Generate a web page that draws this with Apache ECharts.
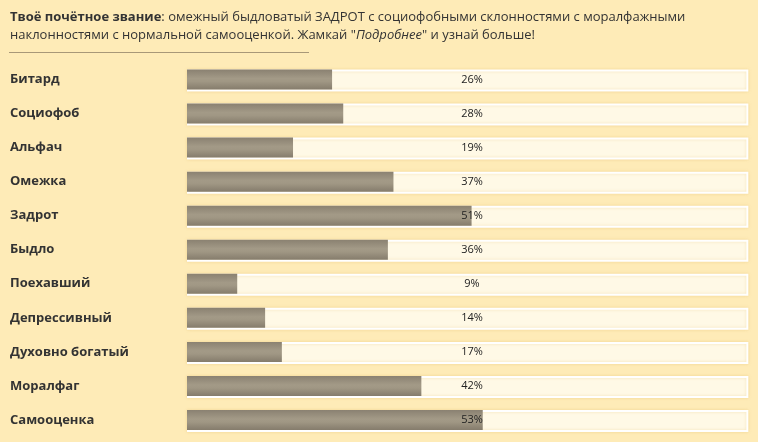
<!DOCTYPE html>
<html><head><meta charset="utf-8">
<script src="https://cdn.jsdelivr.net/npm/echarts@6/dist/echarts.min.js"></script>
<style>html,body{margin:0;padding:0;background:#feebb7;}#c{width:758px;height:442px;}</style>
</head><body><div id="c"></div>
<script>
const categories = ['Битард','Социофоб','Альфач','Омежка','Задрот','Быдло','Поехавший','Депрессивный','Духовно богатый','Моралфаг','Самооценка'];
const values = [26, 28, 19, 37, 51, 36, 9, 14, 17, 42, 53];
const trackValues = categories.map(() => 100.6);
const titleBold = 'Твоё почётное звание';
const titleLine1 = ': омежный быдловатый ЗАДРОТ с социофобными склонностями с моралфажными';
const titleLine2a = 'наклонностями с нормальной самооценкой. Жамкай "';
const titleItalic = 'Подробнее';
const titleLine2b = '" и узнай больше!';

const FONT = '"Open Sans", sans-serif';
const chart = echarts.init(document.getElementById('c'), null, {renderer: 'canvas'});
chart.setOption({
  backgroundColor: '#feebb7',
  animation: false,
  title: {
    left: 10, top: 8, padding: 0,
    text: '{b|' + titleBold + '}{n|' + titleLine1 + '}\n{n|' + titleLine2a + '}{i|' + titleItalic + '}{n|' + titleLine2b + '}',
    textStyle: {
      fontWeight: 'normal', fontFamily: FONT, fontSize: 13, color: '#333',
      rich: {
        b: {fontFamily: FONT, fontSize: 13, fontWeight: 'bold', color: '#333', lineHeight: 18},
        n: {fontFamily: FONT, fontSize: 13, fontWeight: 'normal', color: '#333', lineHeight: 18},
        i: {fontFamily: FONT, fontSize: 13, fontWeight: 'normal', fontStyle: 'italic', color: '#333', lineHeight: 18}
      }
    }
  },
  graphic: [{
    type: 'line', shape: {x1: 9, y1: 52.5, x2: 309, y2: 52.5},
    style: {stroke: '#a89878', lineWidth: 1}
  }],
  grid: {left: 187, width: 558, top: 62.5, height: 374.5},
  xAxis: {type: 'value', min: 0, max: 100, show: false},
  yAxis: {
    type: 'category', data: categories, inverse: true,
    axisLine: {show: false}, axisTick: {show: false},
    axisLabel: {align: 'left', margin: 177, fontFamily: FONT, fontSize: 13, fontWeight: 'bold', color: '#333'}
  },
  series: [{
    type: 'bar', data: trackValues, barWidth: 22, barGap: '-100%', silent: true, clip: false,
    itemStyle: {color: '#fff9e6', borderColor: '#ffffff', borderWidth: 2, shadowBlur: 3, shadowColor: 'rgba(220,180,90,0.35)'}
  }, {
    type: 'bar', data: values, barWidth: 20, barGap: '-100%',
    itemStyle: {color: new echarts.graphic.LinearGradient(0, 0, 0, 1, [
      {offset: 0, color: '#8a8171'}, {offset: 0.45, color: '#a39a87'}, {offset: 0.6, color: '#a09784'}, {offset: 1, color: '#857c6c'}])},
    label: {show: true, position: [285, '50%'], align: 'center', verticalAlign: 'middle',
      formatter: p => values[p.dataIndex] + '%', fontFamily: FONT, fontSize: 11, color: '#222'}
  }]
});
</script></body></html>
